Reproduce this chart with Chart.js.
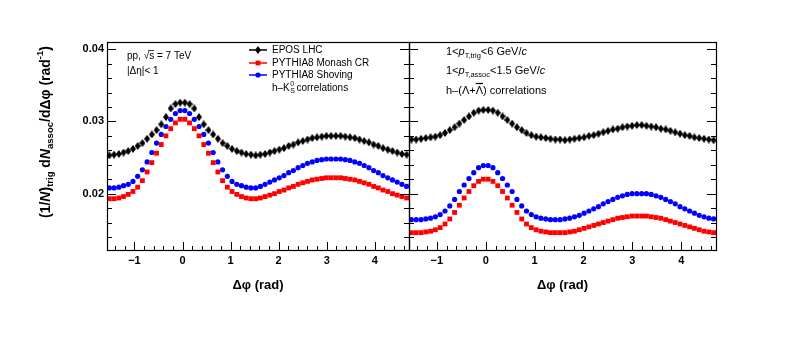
<!DOCTYPE html>
<html>
<head>
<meta charset="utf-8">
<script src="https://cdn.jsdelivr.net/npm/chart.js@4.4.0/dist/chart.umd.min.js"></script>
<style>
body { margin: 0; background: #fff; width: 789px; height: 337px; overflow: hidden; position: relative; }
canvas { position: absolute; top: 0; }
#leftChart { left: 0; }
#rightChart { left: 400px; }
</style>
</head>
<body>
<canvas id="leftChart" width="420" height="337"></canvas>
<canvas id="rightChart" width="389" height="337"></canvas>
<script>
// bin centres in delta phi (64 bins from -pi/2 to 3pi/2)
const dphi = [-1.522,-1.424,-1.325,-1.227,-1.129,-1.031,-0.933,-0.834,-0.736,-0.638,-0.540,-0.442,-0.344,-0.245,-0.147,-0.049,
  0.049,0.147,0.245,0.344,0.442,0.540,0.638,0.736,0.834,0.933,1.031,1.129,1.227,1.325,1.424,1.522,
  1.620,1.718,1.816,1.914,2.013,2.111,2.209,2.307,2.405,2.503,2.601,2.700,2.798,2.896,2.994,3.092,
  3.191,3.289,3.387,3.485,3.583,3.682,3.780,3.878,3.976,4.074,4.172,4.271,4.369,4.467,4.565,4.663];

const xTicks = [-1, 0, 1, 2, 3, 4];
const yTicks = [0.02, 0.03, 0.04];
const legendLabels = ['EPOS LHC', 'PYTHIA8 Monash CR', 'PYTHIA8 Shoving'];

// h-K0S correlations (left panel)
const k0Epos = [0.0253,0.0254,0.0255,0.0257,0.0259,0.0262,0.0266,0.0270,0.0276,0.0282,0.0288,0.0296,0.0306,0.0318,0.0324,0.0326,
  0.0326,0.0324,0.0318,0.0306,0.0296,0.0288,0.0282,0.0276,0.0270,0.0266,0.0262,0.0259,0.0257,0.0255,0.0254,0.0253,
  0.0254,0.0255,0.0257,0.0259,0.0261,0.0263,0.0266,0.0268,0.0271,0.0273,0.0275,0.0277,0.0278,0.0279,0.0280,0.0280,
  0.0280,0.0280,0.0279,0.0278,0.0277,0.0275,0.0273,0.0271,0.0268,0.0266,0.0263,0.0261,0.0259,0.0257,0.0255,0.0254];
const k0Monash = [0.0193,0.0193,0.0194,0.0196,0.0199,0.0203,0.0209,0.0218,0.0230,0.0243,0.0256,0.0268,0.0280,0.0290,0.0298,0.0303,
  0.0303,0.0298,0.0290,0.0280,0.0268,0.0256,0.0243,0.0230,0.0218,0.0209,0.0203,0.0199,0.0196,0.0194,0.0193,0.0193,
  0.0194,0.0196,0.0198,0.0200,0.0203,0.0205,0.0208,0.0210,0.0213,0.0215,0.0217,0.0219,0.0220,0.0221,0.0222,0.0222,
  0.0222,0.0222,0.0221,0.0220,0.0219,0.0217,0.0215,0.0213,0.0210,0.0208,0.0205,0.0203,0.0200,0.0198,0.0196,0.0194];
const k0Shoving = [0.0208,0.0208,0.0209,0.0211,0.0213,0.0217,0.0224,0.0233,0.0244,0.0257,0.0270,0.0282,0.0293,0.0303,0.0311,0.0315,
  0.0315,0.0311,0.0303,0.0293,0.0282,0.0270,0.0257,0.0244,0.0233,0.0224,0.0217,0.0213,0.0211,0.0209,0.0208,0.0208,
  0.0210,0.0213,0.0216,0.0219,0.0222,0.0225,0.0229,0.0232,0.0236,0.0239,0.0242,0.0244,0.0246,0.0247,0.0248,0.0248,
  0.0248,0.0248,0.0247,0.0246,0.0244,0.0242,0.0239,0.0236,0.0232,0.0229,0.0225,0.0222,0.0219,0.0216,0.0213,0.0210];

// h-(Lambda+antiLambda) correlations (right panel)
const lamEpos = [0.0275,0.0275,0.0276,0.0277,0.0278,0.0279,0.0281,0.0284,0.0288,0.0292,0.0297,0.0302,0.0307,0.0312,0.0315,0.0316,
  0.0316,0.0315,0.0312,0.0307,0.0302,0.0297,0.0292,0.0288,0.0284,0.0281,0.0279,0.0278,0.0277,0.0276,0.0275,0.0275,
  0.0274,0.0275,0.0276,0.0277,0.0278,0.0280,0.0281,0.0283,0.0285,0.0287,0.0289,0.0290,0.0292,0.0293,0.0294,0.0295,
  0.0295,0.0294,0.0293,0.0292,0.0290,0.0289,0.0287,0.0285,0.0283,0.0281,0.0280,0.0278,0.0277,0.0276,0.0275,0.0274];
const lamMonash = [0.0146,0.0146,0.0146,0.0147,0.0148,0.0150,0.0153,0.0158,0.0165,0.0174,0.0184,0.0194,0.0203,0.0211,0.0217,0.0220,
  0.0220,0.0217,0.0211,0.0203,0.0194,0.0184,0.0174,0.0165,0.0158,0.0153,0.0150,0.0148,0.0147,0.0146,0.0146,0.0146,
  0.0146,0.0147,0.0148,0.0150,0.0152,0.0154,0.0156,0.0158,0.0160,0.0162,0.0164,0.0166,0.0167,0.0168,0.0169,0.0169,
  0.0169,0.0169,0.0168,0.0167,0.0166,0.0164,0.0162,0.0160,0.0158,0.0156,0.0154,0.0152,0.0150,0.0148,0.0147,0.0146];
const lamShoving = [0.0164,0.0164,0.0164,0.0165,0.0166,0.0168,0.0171,0.0176,0.0183,0.0192,0.0203,0.0212,0.0221,0.0229,0.0236,0.0239,
  0.0239,0.0236,0.0229,0.0221,0.0212,0.0203,0.0192,0.0183,0.0176,0.0171,0.0168,0.0166,0.0165,0.0164,0.0164,0.0164,
  0.0165,0.0166,0.0168,0.0170,0.0173,0.0176,0.0179,0.0182,0.0186,0.0189,0.0192,0.0195,0.0197,0.0199,0.0200,0.0200,
  0.0200,0.0200,0.0199,0.0197,0.0195,0.0192,0.0189,0.0186,0.0182,0.0179,0.0176,0.0173,0.0170,0.0168,0.0166,0.0165];

const FONT = '"Liberation Sans", Arial, sans-serif';

// thin diamond marker for EPOS
const diamond = document.createElement('canvas');
diamond.width = 6; diamond.height = 8;
const dctx = diamond.getContext('2d');
dctx.fillStyle = '#000';
dctx.beginPath();
dctx.moveTo(3, 0); dctx.lineTo(6, 4); dctx.lineTo(3, 8); dctx.lineTo(0, 4);
dctx.closePath(); dctx.fill();

const styles = [
  { color: '#000000', pointStyle: diamond, radius: 4 },
  { color: '#ff0000', pointStyle: 'rect', radius: 3.4 },
  { color: '#0000ff', pointStyle: 'circle', radius: 2.6 }
];

function toXY(vals) {
  return vals.map((v, i) => ({ x: dphi[i], y: v }));
}

function makeDatasets(series) {
  return series.map((vals, i) => ({
    label: legendLabels[i],
    data: toXY(vals),
    showLine: false,
    pointStyle: styles[i].pointStyle,
    pointRadius: styles[i].radius,
    pointBackgroundColor: styles[i].color,
    pointBorderWidth: 0
  }));
}

// rich text: parts are [text, kind], kind '' | 'i' | 'sub' | 'sup'
function rich(ctx, x, y, parts, size, weight, draw = true) {
  let cx = x;
  for (const [t, k] of parts) {
    const small = k === 'sub' || k === 'sup';
    const s = small ? size * 0.68 : size;
    ctx.font = (k === 'i' ? 'italic ' : '') + weight + ' ' + s + 'px ' + FONT;
    const dy = k === 'sub' ? size * 0.32 : k === 'sup' ? -size * 0.38 : 0;
    if (draw) ctx.fillText(t, cx, y + dy);
    cx += ctx.measureText(t).width;
  }
  return cx - x;
}

// frame plus ROOT style inner ticks
const frameTicks = {
  id: 'frameTicks',
  afterDraw(chart) {
    const { ctx, chartArea: a, scales: { x, y } } = chart;
    ctx.save();
    ctx.strokeStyle = '#000';
    ctx.lineWidth = 1;
    ctx.beginPath();
    for (let i = -7; i <= 23; i++) {
      const v = i / 5;
      if (v < x.min || v > x.max) continue;
      const px = Math.round(x.getPixelForValue(v)) + 0.5;
      const len = i % 5 === 0 ? 8 : 4;
      ctx.moveTo(px, a.bottom);
      ctx.lineTo(px, a.bottom - len);
    }
    for (let i = 6; i <= 20; i++) {
      const v = i * 0.002;
      if (v < y.min || v > y.max) continue;
      const py = Math.round(y.getPixelForValue(v)) + 0.5;
      const len = i % 5 === 0 ? 9 : 5;
      ctx.moveTo(a.left, py); ctx.lineTo(a.left + len, py);
      ctx.moveTo(a.right, py); ctx.lineTo(a.right - len, py);
    }
    ctx.stroke();
    ctx.lineWidth = 1.2;
    ctx.strokeRect(Math.round(a.left) + 0.5, Math.round(a.top) + 0.5,
      Math.round(a.right - a.left), Math.round(a.bottom - a.top));
    // x axis title
    ctx.fillStyle = '#000';
    ctx.textAlign = 'center';
    ctx.textBaseline = 'middle';
    ctx.font = 'bold 13px ' + FONT;
    ctx.fillText('\u0394\u03c6 (rad)', (a.left + a.right) / 2, 285);
    ctx.restore();
  }
};

const leftText = {
  id: 'leftText',
  afterDraw(chart) {
    const { ctx } = chart;
    ctx.save();
    ctx.fillStyle = '#000';
    ctx.textAlign = 'left';
    ctx.textBaseline = 'middle';

    // y axis title, rotated
    const title = [['(1/', ''], ['N', 'i'], [')', ''], ['trig', 'sub'], [' d', ''], ['N', 'i'],
      ['assoc', 'sub'], ['/d\u0394\u03c6 (rad', ''], ['-1', 'sup'], [')', '']];
    const w = rich(ctx, 0, 0, title, 14, 'bold', false);
    ctx.save();
    ctx.translate(46, 132);
    ctx.rotate(-Math.PI / 2);
    rich(ctx, -w / 2, 0, title, 14, 'bold');
    ctx.restore();

    // system label
    ctx.font = '10px ' + FONT;
    let x0 = 127;
    ctx.fillText('pp, ', x0, 56);
    x0 += ctx.measureText('pp, ').width;
    ctx.fillText('\u221a', x0, 56);
    x0 += ctx.measureText('\u221a').width;
    const sw = ctx.measureText('s').width;
    ctx.fillText('s', x0, 56);
    ctx.beginPath();
    ctx.lineWidth = 0.8;
    ctx.moveTo(x0 - 1, 50.5); ctx.lineTo(x0 + sw, 50.5);
    ctx.stroke();
    ctx.fillText(' = 7 TeV', x0 + sw, 56);
    ctx.fillText('|\u0394\u03b7|< 1', 127, 71);

    // legend
    const rows = [50, 63, 75];
    chart.data.datasets.forEach((ds, i) => {
      const ry = rows[i];
      ctx.strokeStyle = styles[i].color;
      ctx.fillStyle = styles[i].color;
      ctx.lineWidth = 1.5;
      ctx.beginPath();
      ctx.moveTo(249, ry); ctx.lineTo(267, ry);
      ctx.stroke();
      Chart.helpers.drawPoint(ctx, { pointStyle: styles[i].pointStyle, radius: styles[i].radius, borderWidth: 0, rotation: 0 }, 258, ry);
      ctx.fillStyle = '#000';
      ctx.font = '10px ' + FONT;
      ctx.fillText(ds.label, 272, ry);
    });
    ctx.font = '10px ' + FONT;
    let lx = 272;
    ctx.fillText('h\u2013K', lx, 88);
    lx += ctx.measureText('h\u2013K').width;
    ctx.font = '7px ' + FONT;
    ctx.fillText('0', lx + 0.5, 84);
    ctx.fillText('S', lx + 0.5, 91.5);
    lx += ctx.measureText('S').width + 2;
    ctx.font = '10px ' + FONT;
    ctx.fillText('correlations', lx, 88);
    ctx.restore();
  }
};

const rightText = {
  id: 'rightText',
  afterDraw(chart) {
    const { ctx, chartArea: a } = chart;
    ctx.save();
    ctx.fillStyle = '#000';
    ctx.strokeStyle = '#000';
    ctx.textAlign = 'left';
    ctx.textBaseline = 'middle';
    const x0 = a.left + 37;
    rich(ctx, x0, 52, [['1<', ''], ['p', 'i'], ['T,trig', 'sub'], ['<6 GeV/', ''], ['c', 'i']], 11, 'normal');
    rich(ctx, x0, 71, [['1<', ''], ['p', 'i'], ['T,assoc', 'sub'], ['<1.5 GeV/', ''], ['c', 'i']], 11, 'normal');
    const before = rich(ctx, x0, 91, [['h\u2013(\u039b+', '']], 11, 'normal');
    ctx.font = '11px ' + FONT;
    const lw = ctx.measureText('\u039b').width;
    ctx.fillText('\u039b', x0 + before, 91);
    ctx.lineWidth = 1.2;
    ctx.beginPath();
    ctx.moveTo(x0 + before, 83.5); ctx.lineTo(x0 + before + lw, 83.5);
    ctx.stroke();
    ctx.fillText(') correlations', x0 + before + lw, 91);
    ctx.restore();
  }
};

function xScale() {
  return {
    type: 'linear',
    min: -Math.PI / 2,
    max: 3 * Math.PI / 2,
    afterBuildTicks: s => { s.ticks = xTicks.map(v => ({ value: v })); },
    afterFit: s => { s.height = 87; },
    grid: { display: false, drawTicks: false },
    border: { display: false },
    ticks: {
      color: '#000',
      padding: 4,
      autoSkip: false,
      maxRotation: 0,
      font: { family: FONT, weight: 'bold', size: 11 },
      callback: v => v < 0 ? '\u2212' + Math.abs(v) : String(v)
    }
  };
}

new Chart(document.getElementById('leftChart'), {
  type: 'scatter',
  data: { datasets: makeDatasets([k0Epos, k0Monash, k0Shoving]) },
  options: {
    responsive: false,
    animation: false,
    events: [],
    layout: { padding: { left: 0, right: 11, top: 42, bottom: 0 } },
    plugins: { legend: { display: false }, tooltip: { enabled: false } },
    scales: {
      x: xScale(),
      y: {
        min: 0.0122,
        max: 0.041,
        afterBuildTicks: s => { s.ticks = yTicks.map(v => ({ value: v })); },
        afterFit: s => { s.width = 107; },
        grid: { display: false, drawTicks: false },
        border: { display: false },
        ticks: {
          color: '#000',
          padding: 3,
          font: { family: FONT, weight: 'bold', size: 11 },
          callback: v => v.toFixed(2)
        }
      }
    }
  },
  plugins: [frameTicks, leftText]
});

new Chart(document.getElementById('rightChart'), {
  type: 'scatter',
  data: { datasets: makeDatasets([lamEpos, lamMonash, lamShoving]) },
  options: {
    responsive: false,
    animation: false,
    events: [],
    layout: { padding: { left: 9, right: 73, top: 42, bottom: 0 } },
    plugins: { legend: { display: false }, tooltip: { enabled: false } },
    scales: {
      x: xScale(),
      y: { display: false, min: 0.0122, max: 0.041 }
    }
  },
  plugins: [frameTicks, rightText]
});
</script>
</body>
</html>
